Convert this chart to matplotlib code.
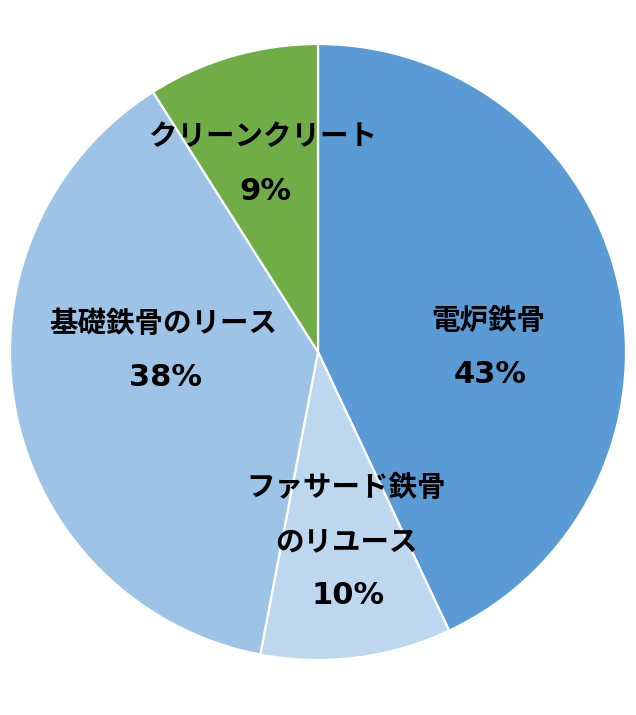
import matplotlib.pyplot as plt

plt.rcParams['font.family'] = ['Noto Sans CJK JP', 'DejaVu Sans']

# data
categories = ["電炉鉄骨", "ファサード鉄骨\nのリユース", "基礎鉄骨のリース", "クリーンクリート"]
shares = [43, 10, 38, 9]
colors = ["#5B9BD5", "#BDD7EE", "#9DC3E6", "#70AD47"]

# layout (pixels in a 636x715 canvas)
W, H = 636, 715
CX, CY, R = 318, 352, 308
# label anchor for each slice (pixel coords, top-left origin), line gap in px
label_pos = [(488, 348), (346, 542), (163, 351), (263, 164)]
line_gap = 54

fig = plt.figure(figsize=(W / 100, H / 100), dpi=100)
ax = fig.add_axes([0, 0, 1, 1])

ax.pie(shares, colors=colors, startangle=90, counterclock=False,
       radius=1.0, wedgeprops=dict(edgecolor="white", linewidth=1.6))

ax.set_xlim(-CX / R, (W - CX) / R)
ax.set_ylim(-(H - CY) / R, CY / R)
ax.set_aspect("auto")
ax.axis("off")


def px_to_data(px, py):
    return (px - CX) / R, (CY - py) / R


for name, share, (px, py) in zip(categories, shares, label_pos):
    lines = name.split("\n")
    n = len(lines) + 1
    for i, line in enumerate(lines):
        ly = py + (i - (n - 1) / 2) * line_gap
        x, y = px_to_data(px, ly)
        ax.text(x, y, line, ha="center", va="center", fontsize=20.5,
                fontweight="bold", color="black")
    # percentage line, wider Verdana-like digits
    ly = py + ((n - 1) / 2) * line_gap
    x, y = px_to_data(px + 2, ly)
    ax.text(x, y, f"{share}%", ha="center", va="center", fontsize=22,
            fontweight="bold", color="black", family="DejaVu Sans")

fig.savefig("out.png", dpi=100)
